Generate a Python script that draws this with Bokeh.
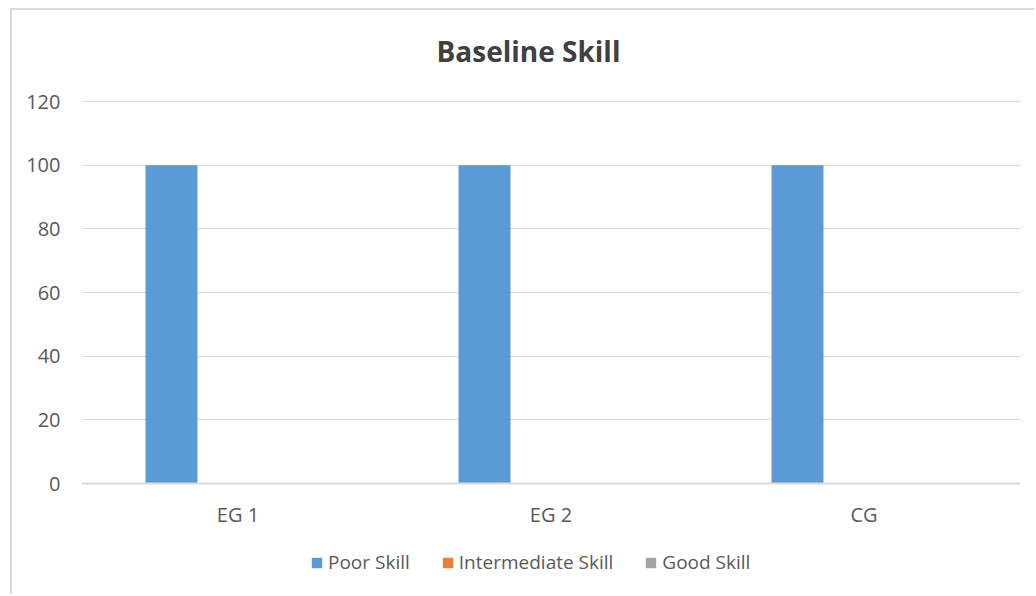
from bokeh.plotting import figure
from bokeh.models import ColumnDataSource, FactorRange, Legend, LegendItem, Label, Span, Range1d
from bokeh.core.properties import value
from bokeh.transform import dodge
from bokeh.embed import file_html
from bokeh.resources import INLINE

categories = ["EG 1", "EG 2", "CG"]
poor_skill = [100, 100, 100]
intermediate_skill = [0, 0, 0]
good_skill = [0, 0, 0]
series_names = ["Poor Skill", "Intermediate Skill", "Good Skill"]
y_ticks = [0, 20, 40, 60, 80, 100, 120]

colors = ["#5B9BD5", "#ED7D31", "#A5A5A5"]
FONT = "Open Sans"
TXT = "#595959"

src = ColumnDataSource(dict(cat=categories, poor=poor_skill,
                            inter=intermediate_skill, good=good_skill))

# frame spans the whole height of the canvas; value range beyond 0..120 leaves
# room for the title, the category labels and the legend (annotations are clipped to the frame)
p = figure(width=1024, height=586, x_range=FactorRange(*categories, range_padding=0),
           y_range=Range1d(-35.5, 148.6), output_backend="svg", toolbar_location=None,
           title=None, min_border_left=69, min_border_right=16,
           min_border_top=0, min_border_bottom=0,
           margin=(8, 0, 0, 10),
           styles={"border-top": "2px solid #D9D9D9", "border-left": "2px solid #D9D9D9"})

p.outline_line_color = None
p.background_fill_color = "white"
p.border_fill_color = "white"

renderers = []
for key, off, col in zip(["poor", "inter", "good"], [-0.2125, 0.0, 0.2125], colors):
    r = p.vbar(x=dodge("cat", off, range=p.x_range), top=key, width=0.166,
               source=src, fill_color=col, line_color=None)
    renderers.append(r)

p.yaxis.ticker = y_ticks
p.yaxis.axis_line_color = None
p.yaxis.major_tick_line_color = None
p.yaxis.minor_tick_line_color = None
p.yaxis.major_label_standoff = 15
p.yaxis.major_label_text_font = FONT
p.yaxis.major_label_text_font_size = "20px"
p.yaxis.major_label_text_color = TXT

p.xaxis.visible = False
p.xgrid.grid_line_color = None
p.ygrid.grid_line_color = "#D9D9D9"
p.ygrid.grid_line_width = 1

p.add_layout(Span(location=0, dimension="width", line_color="#D9D9D9", line_width=2))

# category labels under the zero line
p.text(x=categories, y=0, text=categories, y_offset=17,
       text_font=value(FONT), text_font_size="20px", text_color=TXT,
       text_align="center", text_baseline="top")

title = Label(x=447, y=546, x_units="screen", y_units="screen", text="Baseline Skill",
              text_font=FONT, text_font_size="28px", text_font_style="bold",
              text_color="#404040", text_align="center", text_baseline="middle")
p.add_layout(title)

legend = Legend(items=[LegendItem(label=n, renderers=[r]) for n, r in zip(series_names, renderers)],
                orientation="horizontal", location=(229, 21),
                glyph_width=13, glyph_height=13, label_standoff=5, spacing=31,
                padding=0, margin=0, border_line_color=None, background_fill_alpha=0,
                label_text_font=FONT, label_text_font_size="19px", label_text_color=TXT)
p.add_layout(legend, "center")

open("out.html", "w").write(file_html(p, INLINE))
